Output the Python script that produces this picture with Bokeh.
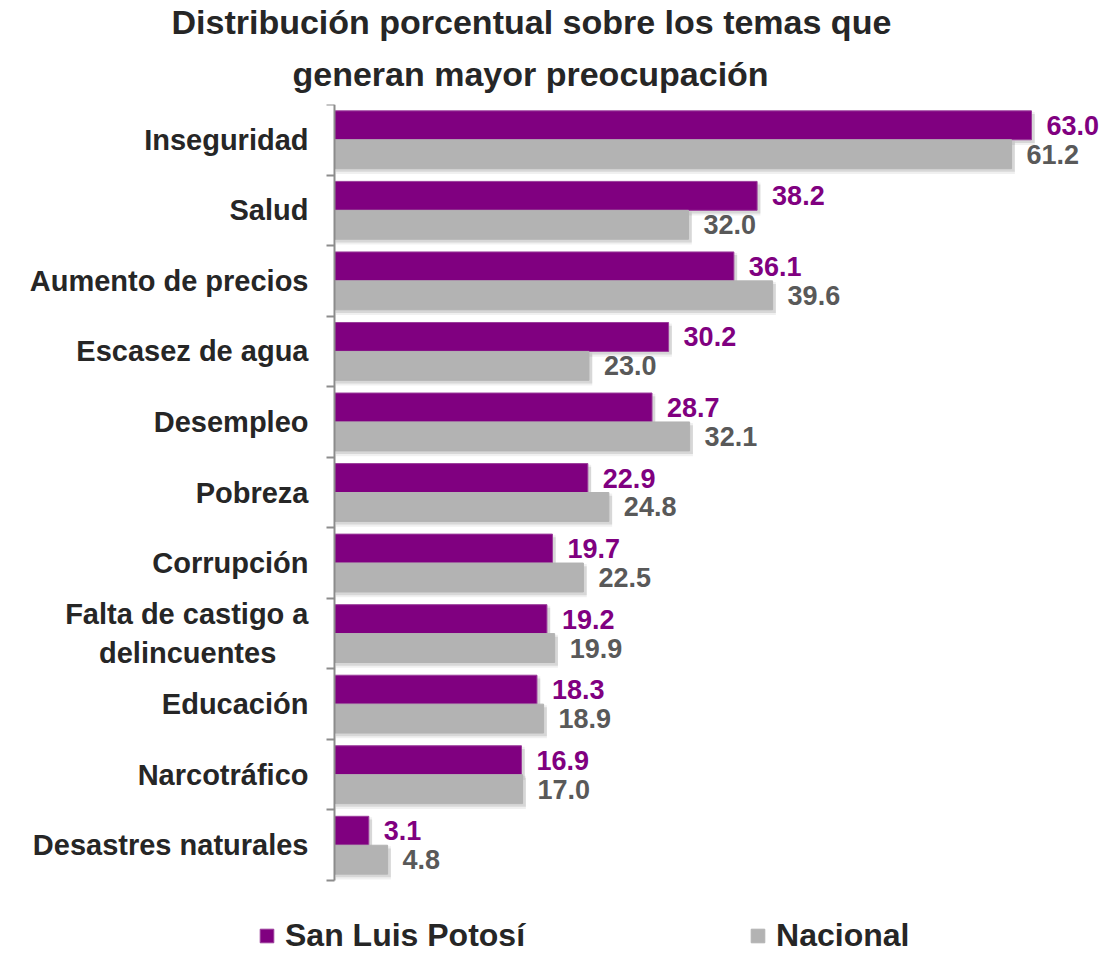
from bokeh.plotting import figure
from bokeh.models import (Range1d, FixedTicker, ColumnDataSource, Title, Legend, LegendItem)
from bokeh.core.properties import value
from bokeh.embed import file_html
from bokeh.resources import INLINE
import numpy as np

title_lines = ["Distribución porcentual sobre los temas que", "generan mayor preocupación"]
categories = ["Inseguridad", "Salud", "Aumento de precios", "Escasez de agua", "Desempleo",
              "Pobreza", "Corrupción", "Falta de castigo a\ndelincuentes\u00a0\u00a0\u00a0\u00a0", "Educación",
              "Narcotráfico", "Desastres naturales"]
san_luis = [63.0, 38.2, 36.1, 30.2, 28.7, 22.9, 19.7, 19.2, 18.3, 16.9, 3.1]
nacional = [61.2, 32.0, 39.6, 23.0, 32.1, 24.8, 22.5, 19.9, 18.9, 17.0, 4.8]
series_names = ["San Luis Potosí", "Nacional"]

PURPLE = "#800080"
GRAY = "#b3b3b3"
TXT = "#262626"
FONT = "Liberation Sans"

n = len(categories)
idx = np.arange(n)

W, Hc = 1100, 954
TOP = 104
PX_X = 11.063            # pixels per percentage point
PX_Y = 776 / n           # pixels per category band
x0 = -334 / PX_X
x1 = (W - 334) / PX_X
ybot = (Hc - TOP) / PX_Y

p = figure(width=W, height=Hc, output_backend="svg", toolbar_location=None,
           x_range=Range1d(x0, x1), y_range=Range1d(ybot, 0),
           x_axis_location=None, min_border_left=0, min_border_right=0,
           min_border_top=TOP, min_border_bottom=0)
p.outline_line_color = None
p.xgrid.visible = False
p.ygrid.visible = False

src = ColumnDataSource(dict(
    y1=idx + 0.295, y2=idx + 0.705, s=san_luis, n=nacional,
    s_lbl=[f"{v:.1f}" for v in san_luis], n_lbl=[f"{v:.1f}" for v in nacional],
    y1s=idx + 0.295 + 0.045, y2s=idx + 0.705 + 0.045,
    s_sh=[v + 0.3 for v in san_luis], n_sh=[v + 0.3 for v in nacional],
))

H = 0.41
for alpha, grow in [(0.06, 0.06), (0.10, 0.0)]:
    p.hbar(y="y1s", left=0.1, right="s_sh", height=H + grow, source=src,
           fill_color="black", fill_alpha=alpha, line_color=None)
    p.hbar(y="y2s", left=0.1, right="n_sh", height=H + grow, source=src,
           fill_color="black", fill_alpha=alpha, line_color=None)

r1 = p.hbar(y="y1", left=0, right="s", height=H, source=src,
            fill_color=PURPLE, line_color="#9b3d9b", line_width=1)
r2 = p.hbar(y="y2", left=0, right="n", height=H, source=src,
            fill_color=GRAY, line_color=GRAY, line_width=1)

p.text(x="s", y="y1", text="s_lbl", source=src, x_offset=15,
       text_font=value(FONT), text_font_style="bold", text_font_size="27px",
       text_color=PURPLE, text_baseline="middle", text_align="left")
p.text(x="n", y="y2", text="n_lbl", source=src, x_offset=15,
       text_font=value(FONT), text_font_style="bold", text_font_size="27px",
       text_color="#595959", text_baseline="middle", text_align="left")

ax = p.yaxis[0]
ax.fixed_location = 0
ax.bounds = (0, n)
ax.ticker = FixedTicker(ticks=list(idx + 0.5), minor_ticks=list(range(n + 1)))
ax.major_label_overrides = {float(i + 0.5): c for i, c in enumerate(categories)}
ax.major_tick_out = 0
ax.major_tick_in = 0
ax.minor_tick_out = 8
ax.minor_tick_in = 0
ax.minor_tick_line_color = "#8c8c8c"
ax.minor_tick_line_width = 2
ax.axis_line_color = "#8c8c8c"
ax.axis_line_width = 2
ax.major_label_standoff = 18
ax.major_label_text_font = FONT
ax.major_label_text_font_style = "bold"
ax.major_label_text_font_size = "29px"
ax.major_label_text_color = TXT

# two-line title (line closest to the plot is added first)
p.add_layout(Title(text=title_lines[1], align="left", offset=292, standoff=24,
                   text_font=FONT, text_font_style="bold", text_font_size="34px",
                   text_color=TXT), "above")
p.add_layout(Title(text=title_lines[0], align="left", offset=171, standoff=0,
                   text_font=FONT, text_font_style="bold", text_font_size="34px",
                   text_color=TXT), "above")

legend = Legend(items=[LegendItem(label=series_names[0], renderers=[r1]),
                       LegendItem(label=series_names[1], renderers=[r2])],
                location=(258, 0), orientation="horizontal", padding=0, margin=0,
                spacing=224, border_line_color=None, background_fill_alpha=0,
                glyph_width=17, glyph_height=17, label_standoff=10,
                label_text_font=FONT, label_text_font_style="bold",
                label_text_font_size="32px", label_text_color=TXT)
p.add_layout(legend)

open("out.html", "w").write(file_html(p, INLINE))
